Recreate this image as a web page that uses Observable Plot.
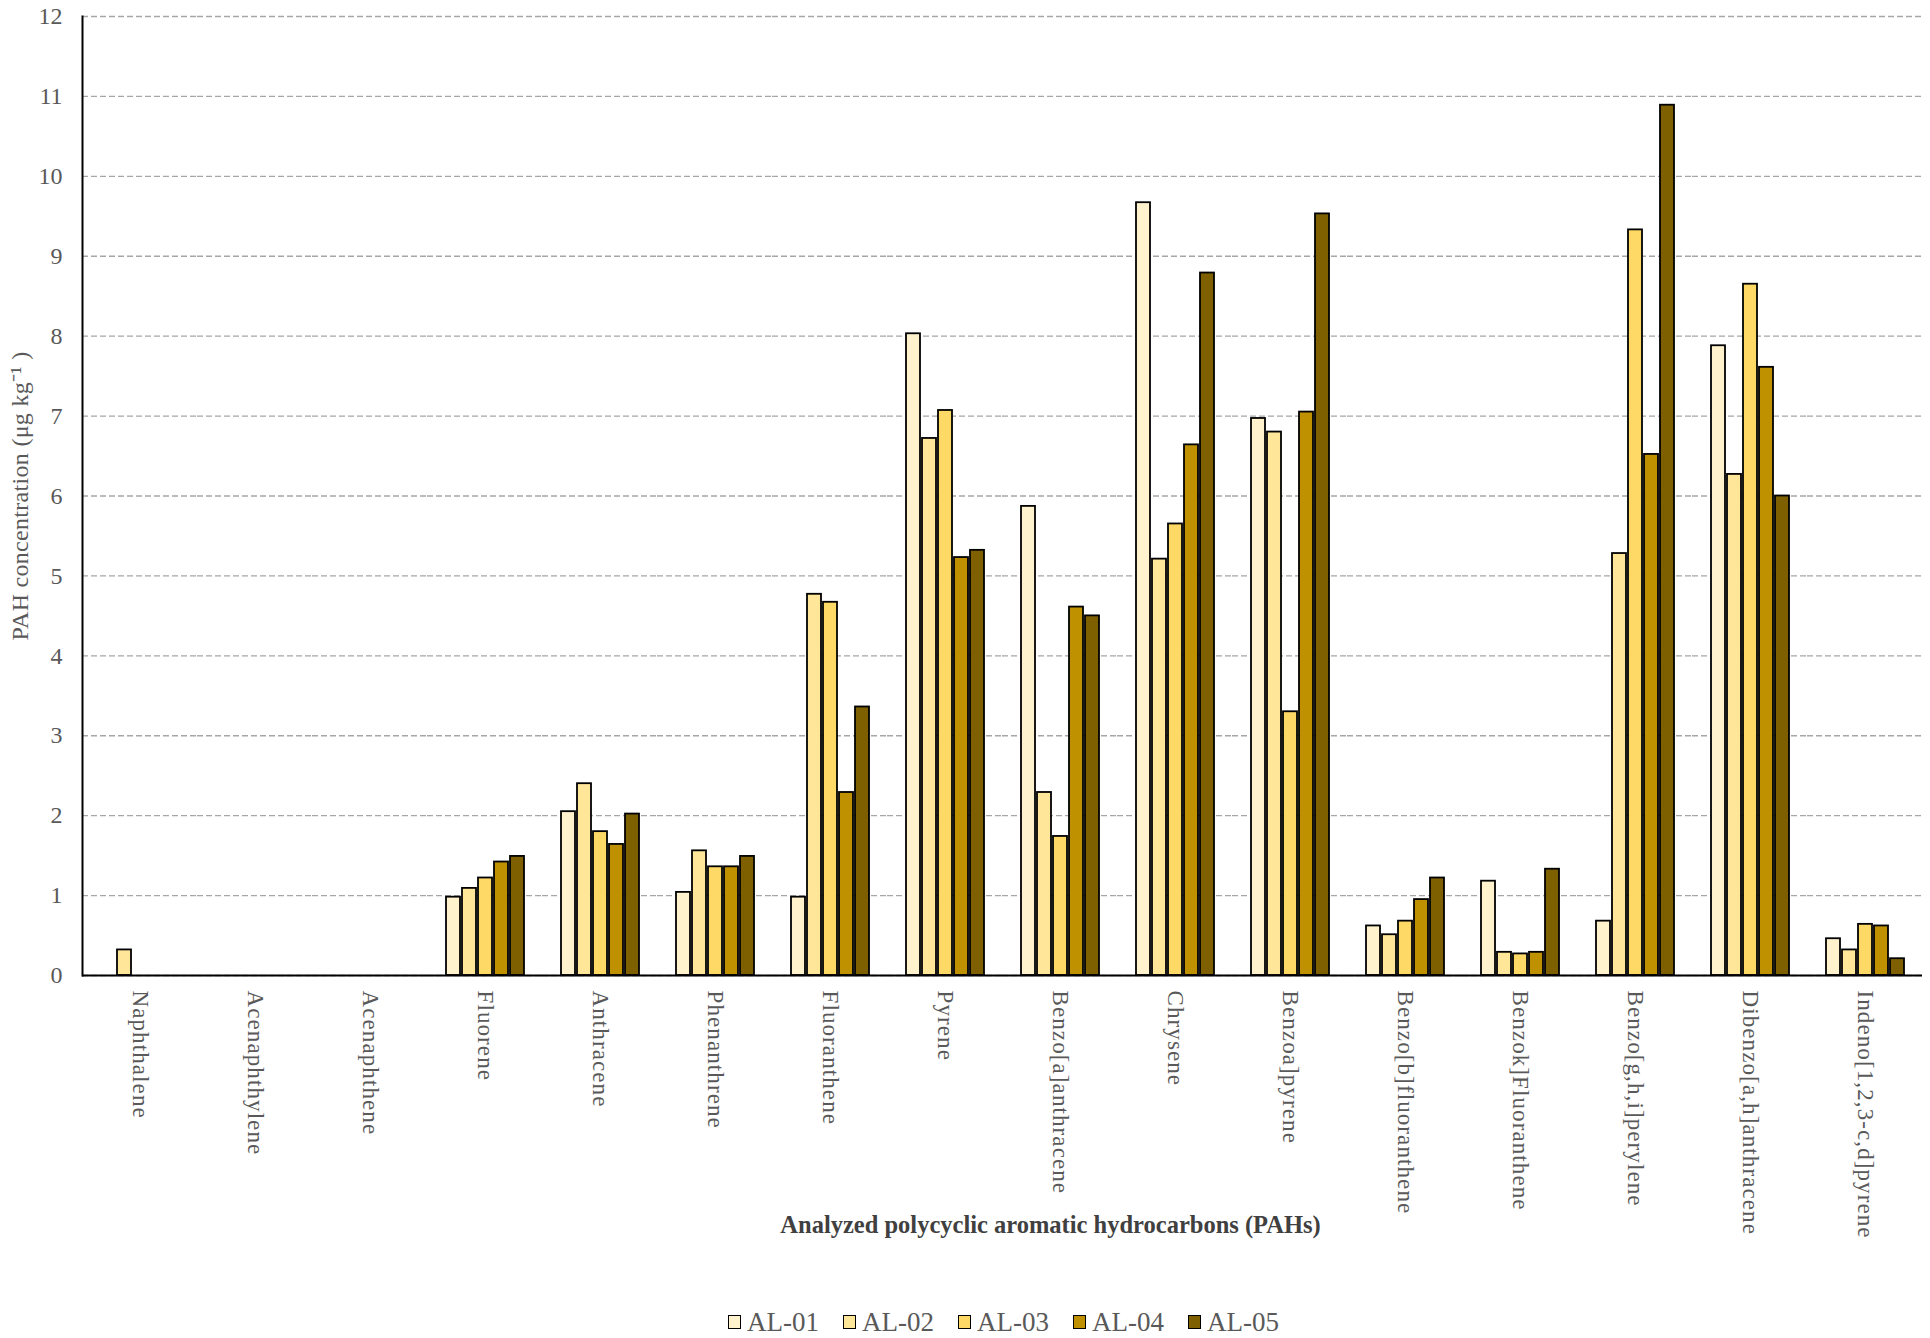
<!DOCTYPE html>
<html>
<head>
<meta charset="utf-8">
<script src="https://cdn.jsdelivr.net/npm/d3@7"></script>
<script src="https://cdn.jsdelivr.net/npm/@observablehq/plot@0.6"></script>
<style>
  html, body { margin: 0; padding: 0; background: #ffffff; }
  body { width: 1930px; height: 1338px; position: relative; overflow: hidden; font-family: "Liberation Serif", "Times New Roman", serif; }
  #chart { position: absolute; left: 0; top: 0; }
  #chart g[aria-label="fx-axis tick label"] text { letter-spacing: 1.1px; }
  #chart g[aria-label="y-axis label"] text { letter-spacing: 0.3px; }
  #legend { position: absolute; left: 728px; top: 1306px; height: 32px; display: flex; align-items: center; gap: 24px; font-size: 27px; color: #595959; line-height: 32px; }
  #legend .item { display: flex; align-items: center; }
  #legend .sw { width: 11px; height: 12px; border: 1.8px solid #000; margin-right: 6px; box-sizing: content-box; }
</style>
</head>
<body>
<div id="chart"></div>
<div id="legend"></div>
<script>
const categories = [
  "Naphthalene", "Acenaphthylene", "Acenaphthene", "Fluorene", "Anthracene",
  "Phenanthrene", "Fluoranthene", "Pyrene", "Benzo[a]anthracene", "Chrysene",
  "Benzoa]pyrene", "Benzo[b]fluoranthene", "Benzok]Fluoranthene",
  "Benzo[g,h,i]perylene", "Dibenzo[a,h]anthracene", "Indeno[1,2,3-c,d]pyrene"
];
const series = ["AL-01", "AL-02", "AL-03", "AL-04", "AL-05"];
const AL01 = [0, 0, 0, 0.98, 2.05, 1.04, 0.98, 8.03, 5.87, 9.67, 6.97, 0.62, 1.18, 0.68, 7.88, 0.46];
const AL02 = [0.32, 0, 0, 1.09, 2.40, 1.56, 4.77, 6.72, 2.29, 5.21, 6.80, 0.51, 0.29, 5.28, 6.27, 0.32];
const AL03 = [0, 0, 0, 1.22, 1.80, 1.36, 4.67, 7.07, 1.74, 5.65, 3.30, 0.68, 0.27, 9.33, 8.65, 0.64];
const AL04 = [0, 0, 0, 1.42, 1.64, 1.36, 2.29, 5.23, 4.61, 6.64, 7.05, 0.95, 0.29, 6.52, 7.61, 0.62];
const AL05 = [0, 0, 0, 1.49, 2.02, 1.49, 3.36, 5.32, 4.50, 8.79, 9.53, 1.22, 1.33, 10.89, 6.00, 0.21];
const seriesValues = [AL01, AL02, AL03, AL04, AL05];
const colors = ["#FFF2CC", "#FFE699", "#FFD966", "#BF9000", "#7F6000"];
const yTicks = [0, 1, 2, 3, 4, 5, 6, 7, 8, 9, 10, 11, 12];
const yTitle = "PAH concentration (\u03bcg kg\u207b\u00b9 )";
const xTitle = "Analyzed polycyclic aromatic hydrocarbons (PAHs)";

const rows = [];
categories.forEach((c, i) => {
  series.forEach((s, j) => {
    rows.push({category: c, series: s, value: seriesValues[j][i]});
  });
});

const chart = Plot.plot({
  width: 1930,
  height: 1296,
  marginLeft: 81,
  marginRight: 7,
  marginTop: 16,
  marginBottom: 321,
  style: {fontFamily: "'Liberation Serif', 'Times New Roman', serif", background: "#ffffff", overflow: "visible"},
  fx: {domain: categories, paddingInner: 0, paddingOuter: 0, label: null},
  x: {domain: series, paddingInner: 0.14, paddingOuter: 1.0, axis: null},
  y: {domain: [0, 12], axis: null},
  color: {domain: series, range: colors},
  marks: [
    Plot.gridY(yTicks, {stroke: "#a6a6a6", strokeOpacity: 1, strokeDasharray: "6,3", strokeWidth: 1.3}),
    Plot.barY(rows, {fx: "category", x: "series", y: "value", fill: "series", stroke: "#000000", strokeWidth: 1.8}),
    Plot.ruleY([0], {stroke: "#000000", strokeWidth: 2}),
    Plot.axisY(yTicks, {tickSize: 0, tickPadding: 20, fontSize: 24, fill: "#595959", tickFormat: d3.format("d"), label: yTitle, labelArrow: "none", labelAnchor: "center", labelOffset: 72}),
    Plot.axisFx({anchor: "bottom", tickRotate: 90, tickSize: 0, tickPadding: 15, fontSize: 23, fill: "#595959", label: null}),
    Plot.frame({anchor: "left", facet: "super", stroke: "#000000", strokeWidth: 2}),
    Plot.text([xTitle], {facet: "super", frameAnchor: "bottom", dy: 257, dx: 48, fontWeight: "bold", fontSize: 24.5, fill: "#404040"})
  ]
});
document.getElementById("chart").appendChild(chart);

const legend = document.getElementById("legend");
series.forEach((s, j) => {
  const item = document.createElement("div");
  item.className = "item";
  const sw = document.createElement("span");
  sw.className = "sw";
  sw.style.background = colors[j];
  const t = document.createElement("span");
  t.textContent = s;
  item.appendChild(sw);
  item.appendChild(t);
  legend.appendChild(item);
});
</script>
</body>
</html>
